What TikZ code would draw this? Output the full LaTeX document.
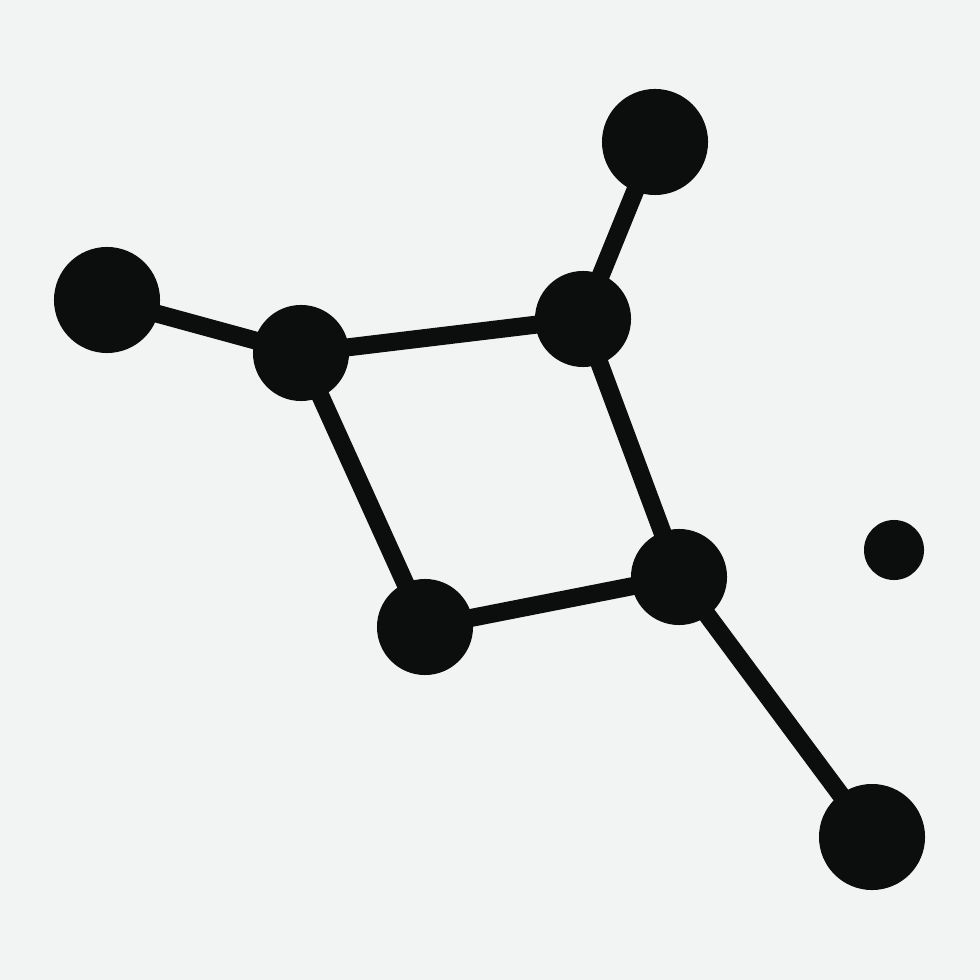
\documentclass[tikz,border=0pt]{standalone}
\usetikzlibrary{backgrounds}
\definecolor{bg}{HTML}{F2F4F3}
\definecolor{ink}{HTML}{0C0E0D}
\pgfdeclarelayer{paper}
\pgfsetlayers{paper,background,main}
\begin{document}
\begin{tikzpicture}[x=0.01cm,y=-0.01cm,
  big/.style={circle,fill=ink,inner sep=0pt,minimum size=1.06cm},
  mid/.style={circle,fill=ink,inner sep=0pt,minimum size=0.96cm},
  small/.style={circle,fill=ink,inner sep=0pt,minimum size=0.60cm},
  bond/.style={draw=ink,line width=0.18cm}]
\begin{pgfonlayer}{paper}
\fill[bg] (0,0) rectangle (980,980);
\end{pgfonlayer}
\useasboundingbox (0,0) rectangle (980,980);
\node[big] (a) at (107,300) {};
\node[mid] (b) at (301,353) {};
\node[mid] (c) at (583,319) {};
\node[big] (d) at (655,142) {};
\node[mid] (e) at (679,577) {};
\node[mid] (f) at (425,627) {};
\node[big] (g) at (872,837) {};
\node[small] (h) at (894,550) {};
\begin{scope}[on background layer]
\draw[bond] (a.center) -- (b.center);
\draw[bond] (b.center) -- (c.center);
\draw[bond] (c.center) -- (d.center);
\draw[bond] (c.center) -- (e.center);
\draw[bond] (b.center) -- (f.center);
\draw[bond] (f.center) -- (e.center);
\draw[bond] (e.center) -- (g.center);
\end{scope}
\end{tikzpicture}
\end{document}
